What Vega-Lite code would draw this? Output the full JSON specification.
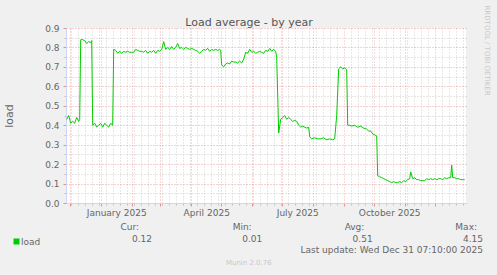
{
  "$schema": "https://vega.github.io/schema/vega-lite/v6.json",
  "width": 400,
  "height": 175,
  "autosize": {"type": "none"},
  "padding": {"left": 66, "top": 28, "right": 31, "bottom": 72},
  "background": "#f0f0f0",
  "config": {
    "font": "DejaVu Sans",
    "view": {"fill": "white", "stroke": null},
    "axis": {"labelFont": "DejaVu Sans", "titleFont": "DejaVu Sans", "titleFontWeight": "normal"}
  },
  "datasets": {
    "load": [
      {"t": "2024-11-28T00:00", "v": 0.43},
      {"t": "2024-11-30T00:00", "v": 0.45},
      {"t": "2024-12-02T00:00", "v": 0.41},
      {"t": "2024-12-04T00:00", "v": 0.42},
      {"t": "2024-12-06T00:00", "v": 0.41},
      {"t": "2024-12-08T00:00", "v": 0.44},
      {"t": "2024-12-10T00:00", "v": 0.42},
      {"t": "2024-12-11T00:00", "v": 0.43},
      {"t": "2024-12-12T00:00", "v": 0.84},
      {"t": "2024-12-14T00:00", "v": 0.84},
      {"t": "2024-12-16T00:00", "v": 0.835},
      {"t": "2024-12-18T00:00", "v": 0.82},
      {"t": "2024-12-20T00:00", "v": 0.83},
      {"t": "2024-12-22T00:00", "v": 0.825},
      {"t": "2024-12-23T00:00", "v": 0.835},
      {"t": "2024-12-24T00:00", "v": 0.40},
      {"t": "2024-12-26T00:00", "v": 0.41},
      {"t": "2024-12-28T00:00", "v": 0.39},
      {"t": "2024-12-30T00:00", "v": 0.40},
      {"t": "2025-01-01T00:00", "v": 0.41},
      {"t": "2025-01-03T00:00", "v": 0.39},
      {"t": "2025-01-05T00:00", "v": 0.41},
      {"t": "2025-01-07T00:00", "v": 0.40},
      {"t": "2025-01-09T00:00", "v": 0.39},
      {"t": "2025-01-11T00:00", "v": 0.41},
      {"t": "2025-01-13T00:00", "v": 0.40},
      {"t": "2025-01-14T00:00", "v": 0.79},
      {"t": "2025-01-16T00:00", "v": 0.785},
      {"t": "2025-01-18T00:00", "v": 0.77},
      {"t": "2025-01-20T00:00", "v": 0.78},
      {"t": "2025-01-22T00:00", "v": 0.77},
      {"t": "2025-01-24T00:00", "v": 0.78},
      {"t": "2025-01-26T00:00", "v": 0.775},
      {"t": "2025-01-28T00:00", "v": 0.78},
      {"t": "2025-01-30T00:00", "v": 0.775},
      {"t": "2025-02-01T00:00", "v": 0.775},
      {"t": "2025-02-03T00:00", "v": 0.775},
      {"t": "2025-02-05T00:00", "v": 0.79},
      {"t": "2025-02-07T00:00", "v": 0.785},
      {"t": "2025-02-09T00:00", "v": 0.78},
      {"t": "2025-02-11T00:00", "v": 0.78},
      {"t": "2025-02-13T00:00", "v": 0.775},
      {"t": "2025-02-15T00:00", "v": 0.785},
      {"t": "2025-02-17T00:00", "v": 0.77},
      {"t": "2025-02-19T00:00", "v": 0.78},
      {"t": "2025-02-21T00:00", "v": 0.775},
      {"t": "2025-02-23T00:00", "v": 0.785},
      {"t": "2025-02-25T00:00", "v": 0.77},
      {"t": "2025-02-27T00:00", "v": 0.785},
      {"t": "2025-03-01T00:00", "v": 0.78},
      {"t": "2025-03-03T00:00", "v": 0.79},
      {"t": "2025-03-05T00:00", "v": 0.83},
      {"t": "2025-03-07T00:00", "v": 0.79},
      {"t": "2025-03-09T00:00", "v": 0.80},
      {"t": "2025-03-11T00:00", "v": 0.79},
      {"t": "2025-03-13T00:00", "v": 0.805},
      {"t": "2025-03-15T00:00", "v": 0.79},
      {"t": "2025-03-17T00:00", "v": 0.80},
      {"t": "2025-03-19T00:00", "v": 0.82},
      {"t": "2025-03-21T00:00", "v": 0.795},
      {"t": "2025-03-23T00:00", "v": 0.80},
      {"t": "2025-03-25T00:00", "v": 0.79},
      {"t": "2025-03-27T00:00", "v": 0.80},
      {"t": "2025-03-29T00:00", "v": 0.795},
      {"t": "2025-03-31T00:00", "v": 0.79},
      {"t": "2025-04-02T00:00", "v": 0.795},
      {"t": "2025-04-04T00:00", "v": 0.79},
      {"t": "2025-04-06T00:00", "v": 0.785},
      {"t": "2025-04-08T00:00", "v": 0.78},
      {"t": "2025-04-10T00:00", "v": 0.77},
      {"t": "2025-04-12T00:00", "v": 0.78},
      {"t": "2025-04-14T00:00", "v": 0.79},
      {"t": "2025-04-16T00:00", "v": 0.785},
      {"t": "2025-04-18T00:00", "v": 0.795},
      {"t": "2025-04-20T00:00", "v": 0.78},
      {"t": "2025-04-22T00:00", "v": 0.79},
      {"t": "2025-04-24T00:00", "v": 0.785},
      {"t": "2025-04-26T00:00", "v": 0.79},
      {"t": "2025-04-28T00:00", "v": 0.785},
      {"t": "2025-04-30T00:00", "v": 0.79},
      {"t": "2025-05-01T00:00", "v": 0.785},
      {"t": "2025-05-02T00:00", "v": 0.71},
      {"t": "2025-05-04T00:00", "v": 0.70},
      {"t": "2025-05-06T00:00", "v": 0.715},
      {"t": "2025-05-08T00:00", "v": 0.72},
      {"t": "2025-05-10T00:00", "v": 0.715},
      {"t": "2025-05-12T00:00", "v": 0.73},
      {"t": "2025-05-14T00:00", "v": 0.725},
      {"t": "2025-05-16T00:00", "v": 0.725},
      {"t": "2025-05-18T00:00", "v": 0.72},
      {"t": "2025-05-20T00:00", "v": 0.73},
      {"t": "2025-05-22T00:00", "v": 0.72},
      {"t": "2025-05-24T00:00", "v": 0.74},
      {"t": "2025-05-26T00:00", "v": 0.775},
      {"t": "2025-05-28T00:00", "v": 0.77},
      {"t": "2025-05-30T00:00", "v": 0.79},
      {"t": "2025-06-01T00:00", "v": 0.775},
      {"t": "2025-06-03T00:00", "v": 0.78},
      {"t": "2025-06-05T00:00", "v": 0.77},
      {"t": "2025-06-07T00:00", "v": 0.775},
      {"t": "2025-06-09T00:00", "v": 0.78},
      {"t": "2025-06-11T00:00", "v": 0.775},
      {"t": "2025-06-13T00:00", "v": 0.77},
      {"t": "2025-06-15T00:00", "v": 0.785},
      {"t": "2025-06-17T00:00", "v": 0.78},
      {"t": "2025-06-19T00:00", "v": 0.795},
      {"t": "2025-06-21T00:00", "v": 0.78},
      {"t": "2025-06-23T00:00", "v": 0.79},
      {"t": "2025-06-25T00:00", "v": 0.78},
      {"t": "2025-06-26T00:00", "v": 0.75},
      {"t": "2025-06-28T00:00", "v": 0.36},
      {"t": "2025-06-30T00:00", "v": 0.43},
      {"t": "2025-07-02T00:00", "v": 0.44},
      {"t": "2025-07-04T00:00", "v": 0.45},
      {"t": "2025-07-06T00:00", "v": 0.43},
      {"t": "2025-07-08T00:00", "v": 0.44},
      {"t": "2025-07-10T00:00", "v": 0.43},
      {"t": "2025-07-12T00:00", "v": 0.42},
      {"t": "2025-07-14T00:00", "v": 0.425},
      {"t": "2025-07-16T00:00", "v": 0.42},
      {"t": "2025-07-18T00:00", "v": 0.40},
      {"t": "2025-07-20T00:00", "v": 0.39},
      {"t": "2025-07-22T00:00", "v": 0.395},
      {"t": "2025-07-24T00:00", "v": 0.39},
      {"t": "2025-07-26T00:00", "v": 0.385},
      {"t": "2025-07-28T00:00", "v": 0.39},
      {"t": "2025-07-29T00:00", "v": 0.34},
      {"t": "2025-07-31T00:00", "v": 0.33},
      {"t": "2025-08-03T00:00", "v": 0.335},
      {"t": "2025-08-06T00:00", "v": 0.33},
      {"t": "2025-08-09T00:00", "v": 0.33},
      {"t": "2025-08-12T00:00", "v": 0.335},
      {"t": "2025-08-15T00:00", "v": 0.325},
      {"t": "2025-08-18T00:00", "v": 0.33},
      {"t": "2025-08-21T00:00", "v": 0.325},
      {"t": "2025-08-23T00:00", "v": 0.33},
      {"t": "2025-08-25T00:00", "v": 0.45},
      {"t": "2025-08-27T00:00", "v": 0.69},
      {"t": "2025-08-29T00:00", "v": 0.70},
      {"t": "2025-08-31T00:00", "v": 0.69},
      {"t": "2025-09-02T00:00", "v": 0.695},
      {"t": "2025-09-04T00:00", "v": 0.685},
      {"t": "2025-09-05T00:00", "v": 0.40},
      {"t": "2025-09-07T00:00", "v": 0.40},
      {"t": "2025-09-09T00:00", "v": 0.395},
      {"t": "2025-09-12T00:00", "v": 0.40},
      {"t": "2025-09-15T00:00", "v": 0.39},
      {"t": "2025-09-18T00:00", "v": 0.395},
      {"t": "2025-09-21T00:00", "v": 0.385},
      {"t": "2025-09-24T00:00", "v": 0.38},
      {"t": "2025-09-26T00:00", "v": 0.37},
      {"t": "2025-09-28T00:00", "v": 0.37},
      {"t": "2025-09-30T00:00", "v": 0.355},
      {"t": "2025-10-02T00:00", "v": 0.35},
      {"t": "2025-10-04T00:00", "v": 0.345},
      {"t": "2025-10-05T00:00", "v": 0.14},
      {"t": "2025-10-07T00:00", "v": 0.135},
      {"t": "2025-10-09T00:00", "v": 0.13},
      {"t": "2025-10-11T00:00", "v": 0.125},
      {"t": "2025-10-13T00:00", "v": 0.12},
      {"t": "2025-10-15T00:00", "v": 0.115},
      {"t": "2025-10-17T00:00", "v": 0.11},
      {"t": "2025-10-19T00:00", "v": 0.105},
      {"t": "2025-10-21T00:00", "v": 0.11},
      {"t": "2025-10-23T00:00", "v": 0.105},
      {"t": "2025-10-25T00:00", "v": 0.105},
      {"t": "2025-10-27T00:00", "v": 0.11},
      {"t": "2025-10-29T00:00", "v": 0.105},
      {"t": "2025-10-31T00:00", "v": 0.115},
      {"t": "2025-11-02T00:00", "v": 0.11},
      {"t": "2025-11-04T00:00", "v": 0.12},
      {"t": "2025-11-06T00:00", "v": 0.125},
      {"t": "2025-11-07T00:00", "v": 0.16},
      {"t": "2025-11-09T00:00", "v": 0.125},
      {"t": "2025-11-11T00:00", "v": 0.13},
      {"t": "2025-11-13T00:00", "v": 0.12},
      {"t": "2025-11-15T00:00", "v": 0.12},
      {"t": "2025-11-17T00:00", "v": 0.115},
      {"t": "2025-11-19T00:00", "v": 0.115},
      {"t": "2025-11-21T00:00", "v": 0.115},
      {"t": "2025-11-23T00:00", "v": 0.125},
      {"t": "2025-11-25T00:00", "v": 0.12},
      {"t": "2025-11-27T00:00", "v": 0.125},
      {"t": "2025-11-29T00:00", "v": 0.12},
      {"t": "2025-12-01T00:00", "v": 0.125},
      {"t": "2025-12-03T00:00", "v": 0.12},
      {"t": "2025-12-05T00:00", "v": 0.125},
      {"t": "2025-12-07T00:00", "v": 0.125},
      {"t": "2025-12-09T00:00", "v": 0.12},
      {"t": "2025-12-11T00:00", "v": 0.13},
      {"t": "2025-12-13T00:00", "v": 0.125},
      {"t": "2025-12-15T00:00", "v": 0.13},
      {"t": "2025-12-17T00:00", "v": 0.13},
      {"t": "2025-12-18T00:00", "v": 0.195},
      {"t": "2025-12-19T00:00", "v": 0.13},
      {"t": "2025-12-21T00:00", "v": 0.13},
      {"t": "2025-12-23T00:00", "v": 0.125},
      {"t": "2025-12-25T00:00", "v": 0.125},
      {"t": "2025-12-27T00:00", "v": 0.12},
      {"t": "2025-12-29T00:00", "v": 0.12},
      {"t": "2025-12-31T00:00", "v": 0.12}
    ],
    "legend": [
      {"col": "Cur", "line": "head", "text": "Cur:"},
      {"col": "Min", "line": "head", "text": "Min:"},
      {"col": "Avg", "line": "head", "text": "Avg:"},
      {"col": "Max", "line": "head", "text": "Max:"},
      {"col": "Cur", "line": "value", "text": "0.12"},
      {"col": "Min", "line": "value", "text": "0.01"},
      {"col": "Avg", "line": "value", "text": "0.51"},
      {"col": "Max", "line": "value", "text": "4.15"},
      {"col": "Max", "line": "update", "text": "Last update: Wed Dec 31 07:10:00 2025"}
    ]
  },
  "layer": [
    {
      "resolve": {"axis": {"x": "independent", "y": "independent"}},
      "layer": [
        {
          "mark": {"type": "point", "opacity": 0},
          "encoding": {
            "x": {
              "datum": {"year": 2025, "month": 6, "date": 1},
              "type": "temporal",
              "scale": {"domain": [{"year": 2024, "month": 11, "date": 27, "hours": 7, "minutes": 10}, {"year": 2026, "month": 1, "date": 1, "hours": 7, "minutes": 10}]},
              "axis": {
                "orient": "bottom",
                "values": [
                  {"year": 2024, "month": 12, "date": 2}, {"year": 2024, "month": 12, "date": 9}, {"year": 2024, "month": 12, "date": 16}, {"year": 2024, "month": 12, "date": 23}, {"year": 2024, "month": 12, "date": 30},
                  {"year": 2025, "month": 1, "date": 6}, {"year": 2025, "month": 1, "date": 13}, {"year": 2025, "month": 1, "date": 20}, {"year": 2025, "month": 1, "date": 27},
                  {"year": 2025, "month": 2, "date": 3}, {"year": 2025, "month": 2, "date": 10}, {"year": 2025, "month": 2, "date": 17}, {"year": 2025, "month": 2, "date": 24},
                  {"year": 2025, "month": 3, "date": 3}, {"year": 2025, "month": 3, "date": 10}, {"year": 2025, "month": 3, "date": 17}, {"year": 2025, "month": 3, "date": 24}, {"year": 2025, "month": 3, "date": 31},
                  {"year": 2025, "month": 4, "date": 7}, {"year": 2025, "month": 4, "date": 14}, {"year": 2025, "month": 4, "date": 21}, {"year": 2025, "month": 4, "date": 28},
                  {"year": 2025, "month": 5, "date": 5}, {"year": 2025, "month": 5, "date": 12}, {"year": 2025, "month": 5, "date": 19}, {"year": 2025, "month": 5, "date": 26},
                  {"year": 2025, "month": 6, "date": 2}, {"year": 2025, "month": 6, "date": 9}, {"year": 2025, "month": 6, "date": 16}, {"year": 2025, "month": 6, "date": 23}, {"year": 2025, "month": 6, "date": 30},
                  {"year": 2025, "month": 7, "date": 7}, {"year": 2025, "month": 7, "date": 14}, {"year": 2025, "month": 7, "date": 21}, {"year": 2025, "month": 7, "date": 28},
                  {"year": 2025, "month": 8, "date": 4}, {"year": 2025, "month": 8, "date": 11}, {"year": 2025, "month": 8, "date": 18}, {"year": 2025, "month": 8, "date": 25},
                  {"year": 2025, "month": 9, "date": 8}, {"year": 2025, "month": 9, "date": 15}, {"year": 2025, "month": 9, "date": 22}, {"year": 2025, "month": 9, "date": 29},
                  {"year": 2025, "month": 10, "date": 6}, {"year": 2025, "month": 10, "date": 13}, {"year": 2025, "month": 10, "date": 20}, {"year": 2025, "month": 10, "date": 27},
                  {"year": 2025, "month": 11, "date": 3}, {"year": 2025, "month": 11, "date": 10}, {"year": 2025, "month": 11, "date": 17}, {"year": 2025, "month": 11, "date": 24},
                  {"year": 2025, "month": 12, "date": 8}, {"year": 2025, "month": 12, "date": 15}, {"year": 2025, "month": 12, "date": 22}, {"year": 2025, "month": 12, "date": 29}
                ],
                "grid": true, "gridColor": "#8f8f8f", "gridOpacity": 0.4, "gridDash": [1, 2],
                "ticks": true, "tickColor": "#8f8f8f", "tickOpacity": 0.5, "tickSize": 2,
                "labels": false, "domain": false, "title": null
              }
            },
            "y": {
              "datum": 0.5,
              "type": "quantitative",
              "scale": {"domain": [0, 0.9], "nice": false, "zero": false},
              "axis": {
                "orient": "left",
                "values": [0.05, 0.15, 0.25, 0.35, 0.45, 0.55, 0.65, 0.75, 0.85],
                "grid": true, "gridColor": "#8f8f8f", "gridOpacity": 0.45, "gridDash": [1, 2],
                "ticks": true, "tickColor": "#8f8f8f", "tickOpacity": 0.5, "tickSize": 2,
                "labels": false, "domain": false, "title": null
              }
            }
          }
        },
        {
          "mark": {"type": "point", "opacity": 0},
          "encoding": {
            "x": {
              "datum": {"year": 2025, "month": 6, "date": 1},
              "type": "temporal",
              "scale": {"domain": [{"year": 2024, "month": 11, "date": 27, "hours": 7, "minutes": 10}, {"year": 2026, "month": 1, "date": 1, "hours": 7, "minutes": 10}]},
              "axis": {
                "orient": "bottom",
                "values": [
                  {"year": 2024, "month": 12, "date": 1}, {"year": 2025, "month": 1, "date": 1}, {"year": 2025, "month": 2, "date": 1}, {"year": 2025, "month": 3, "date": 1},
                  {"year": 2025, "month": 4, "date": 1}, {"year": 2025, "month": 5, "date": 1}, {"year": 2025, "month": 6, "date": 1}, {"year": 2025, "month": 7, "date": 1},
                  {"year": 2025, "month": 8, "date": 1}, {"year": 2025, "month": 9, "date": 1}, {"year": 2025, "month": 10, "date": 1}, {"year": 2025, "month": 11, "date": 1},
                  {"year": 2025, "month": 12, "date": 1}
                ],
                "grid": true, "gridColor": "#de4f4f", "gridOpacity": 0.45, "gridDash": [1, 2],
                "ticks": true, "tickColor": "#de4f4f", "tickOpacity": 0.6, "tickSize": 3,
                "labels": false, "domain": false, "title": null
              }
            },
            "y": {
              "datum": 0.5,
              "type": "quantitative",
              "scale": {"domain": [0, 0.9], "nice": false, "zero": false},
              "axis": {
                "orient": "left",
                "values": [0, 0.1, 0.2, 0.3, 0.4, 0.5, 0.6, 0.7, 0.8, 0.9],
                "format": ".1f",
                "grid": true, "gridColor": "#de4f4f", "gridOpacity": 0.5, "gridDash": [1, 2],
                "ticks": true, "tickColor": "#de4f4f", "tickOpacity": 0.6, "tickSize": 3,
                "labels": true, "labelFontSize": 9, "labelColor": "#666666", "labelPadding": 4,
                "domain": true, "domainColor": "#cfd6f8",
                "title": "load", "titleFontSize": 11, "titleColor": "#666666",
                "titleX": -57, "titleY": 87.5, "titleAlign": "center", "titleBaseline": "middle", "titleAngle": -90
              }
            }
          }
        },
        {
          "data": {"name": "load"},
          "mark": {"type": "line", "strokeWidth": 1, "interpolate": "linear"},
          "encoding": {
            "x": {
              "field": "t",
              "type": "temporal",
              "scale": {"domain": [{"year": 2024, "month": 11, "date": 27, "hours": 7, "minutes": 10}, {"year": 2026, "month": 1, "date": 1, "hours": 7, "minutes": 10}]},
              "axis": {
                "orient": "bottom",
                "values": [{"year": 2025, "month": 1, "date": 1}, {"year": 2025, "month": 4, "date": 1}, {"year": 2025, "month": 7, "date": 1}, {"year": 2025, "month": 10, "date": 1}],
                "format": "%B %Y",
                "labelOffset": 15.5,
                "labelFontSize": 9, "labelColor": "#666666", "labelPadding": 5, "labelBaseline": "top",
                "ticks": false, "grid": false,
                "domain": true, "domainColor": "#cfd6f8",
                "title": "Munin 2.0.76", "titleFontSize": 7, "titleColor": "#c8c8c8",
                "titleX": 182.3, "titleY": 59.7, "titleAlign": "center", "titleBaseline": "middle"
              }
            },
            "y": {
              "field": "v",
              "type": "quantitative",
              "scale": {"domain": [0, 0.9], "nice": false, "zero": false},
              "axis": {
                "orient": "right",
                "labels": false, "ticks": false, "grid": false, "domain": false,
                "title": "RRDTOOL / TOBI OETIKER", "titleFontSize": 7, "titleColor": "#c8c8c8",
                "titleX": 20.7, "titleY": -23, "titleAngle": 90, "titleAlign": "left", "titleBaseline": "middle"
              }
            },
            "color": {
              "datum": "load",
              "type": "nominal",
              "scale": {"domain": ["load"], "range": ["#00cc00"]},
              "legend": {
                "orient": "none", "legendX": -54, "legendY": 209,
                "title": null, "padding": 0,
                "symbolType": "square", "symbolSize": 36, "symbolStrokeWidth": 0,
                "symbolFillColor": "#00cc00",
                "labelFontSize": 9, "labelColor": "#666666", "labelOffset": 0,
                "labelFont": "DejaVu Sans",
                "encode": {"symbols": {"update": {"fill": {"value": "#00cc00"}, "stroke": {"value": "#00cc00"}, "strokeWidth": {"value": 0}, "shape": {"value": "square"}}}}
              }
            }
          }
        },
        {
          "mark": {"type": "point", "shape": "triangle-up", "filled": true, "color": "#cfd6f8", "size": 30, "opacity": 1, "dy": -4},
          "encoding": {
            "x": {
              "datum": {"year": 2024, "month": 11, "date": 27, "hours": 7, "minutes": 10},
              "type": "temporal",
              "scale": {"domain": [{"year": 2024, "month": 11, "date": 27, "hours": 7, "minutes": 10}, {"year": 2026, "month": 1, "date": 1, "hours": 7, "minutes": 10}]},
              "axis": {
                "orient": "top", "labels": false, "ticks": false, "grid": false, "domain": false,
                "title": "Load average - by year", "titleFontSize": 11, "titleColor": "#555555",
                "titleX": 182.5, "titleY": -6, "titleAlign": "center", "titleBaseline": "middle"
              }
            },
            "y": {"datum": 0.9, "type": "quantitative", "scale": {"domain": [0, 0.9], "nice": false, "zero": false}, "axis": null}
          }
        },
        {
          "mark": {"type": "point", "shape": "triangle-right", "filled": true, "color": "#cfd6f8", "size": 30, "opacity": 1, "dx": 4},
          "encoding": {
            "x": {
              "datum": {"year": 2026, "month": 1, "date": 1, "hours": 7, "minutes": 10},
              "type": "temporal",
              "scale": {"domain": [{"year": 2024, "month": 11, "date": 27, "hours": 7, "minutes": 10}, {"year": 2026, "month": 1, "date": 1, "hours": 7, "minutes": 10}]},
              "axis": null
            },
            "y": {"datum": 0, "type": "quantitative", "scale": {"domain": [0, 0.9], "nice": false, "zero": false}, "axis": null}
          }
        }
      ]
    },
    {
      "data": {"name": "legend"},
      "transform": [{"filter": "datum.line == 'head'"}],
      "mark": {"type": "text", "align": "right", "baseline": "middle", "fontSize": 9, "color": "#666666", "font": "DejaVu Sans"},
      "encoding": {
        "x": {"field": "col", "type": "nominal", "scale": {"type": "point", "domain": ["Cur", "Min", "Avg", "Max"], "range": [73, 411], "padding": 0}, "axis": null},
        "y": {"field": "line", "type": "nominal", "scale": {"type": "point", "domain": ["head", "value", "update"], "range": [199.3, 222], "padding": 0}, "axis": null},
        "text": {"field": "text"}
      }
    },
    {
      "data": {"name": "legend"},
      "transform": [{"filter": "datum.line != 'head'"}],
      "mark": {"type": "text", "align": "right", "baseline": "middle", "fontSize": 9, "color": "#666666", "font": "DejaVu Sans"},
      "encoding": {
        "x": {"field": "col", "type": "nominal", "scale": {"type": "point", "domain": ["Cur", "Min", "Avg", "Max"], "range": [86, 417], "padding": 0}, "axis": null},
        "y": {"field": "line", "type": "nominal", "scale": {"type": "point", "domain": ["head", "value", "update"], "range": [199.3, 222], "padding": 0}, "axis": null},
        "text": {"field": "text"}
      }
    }
  ],
  "resolve": {"scale": {"x": "independent", "y": "independent", "color": "independent"}, "axis": {"x": "independent", "y": "independent"}}
}
